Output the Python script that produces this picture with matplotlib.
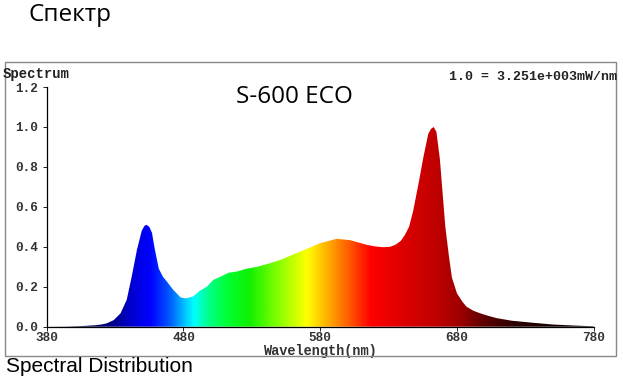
import matplotlib
matplotlib.use('Agg')
import matplotlib.pyplot as plt
import numpy as np
from matplotlib.colors import LinearSegmentedColormap
from matplotlib.patches import Rectangle

# spectrum (relative units, 1.0 = peak)
wavelength = [380, 395, 405, 415, 420, 424, 429, 434, 438.5, 442, 446, 449.5,
              451.5, 453, 455, 457, 459, 462, 465, 468, 472.5, 478, 482, 487,
              492, 497, 502, 507, 513, 519, 526, 534, 542, 551, 565, 580, 592,
              602, 614, 620, 626, 631, 635, 639, 642, 645, 648, 652, 655.5,
              659, 661, 663, 665, 667.5, 669.5, 671.5, 674, 676.3, 680, 684,
              687, 692, 697, 703, 709, 720, 735, 750, 765, 780]
intensity = [0.0, 0.001, 0.003, 0.007, 0.011, 0.017, 0.033, 0.067, 0.134,
             0.245, 0.385, 0.48, 0.505, 0.51, 0.50, 0.47, 0.39, 0.29, 0.25,
             0.225, 0.185, 0.146, 0.142, 0.151, 0.18, 0.20, 0.235, 0.25, 0.27,
             0.276, 0.29, 0.30, 0.315, 0.335, 0.375, 0.418, 0.44, 0.433, 0.41,
             0.402, 0.398, 0.40, 0.41, 0.43, 0.46, 0.50, 0.58, 0.72, 0.85,
             0.965, 0.99, 1.0, 0.975, 0.84, 0.67, 0.50, 0.36, 0.246, 0.167,
             0.125, 0.10, 0.08, 0.067, 0.054, 0.043, 0.03, 0.02, 0.011, 0.006,
             0.002]
xticks = [380, 480, 580, 680, 780]
yticks = [0.0, 0.2, 0.4, 0.6, 0.8, 1.0, 1.2]

# colour of the light along the wavelength axis
stops = [(380, '#000018'), (405, '#000040'), (425, '#000080'), (445, '#0000e0'),
         (455, '#0000ff'), (468, '#0050ff'), (480, '#00c0ff'), (487, '#00ffff'),
         (497, '#00ff90'), (512, '#00ff30'), (528, '#10f000'), (548, '#80ff00'),
         (570, '#ffff00'), (585, '#ffb000'), (600, '#ff6000'), (617, '#ff0000'),
         (645, '#d80000'), (665, '#c00000'), (682, '#a00000'), (700, '#600000'),
         (720, '#300000'), (750, '#120000'), (780, '#000000')]
cmap = LinearSegmentedColormap.from_list(
    'spec', [((w - 380) / 400, c) for w, c in stops])

mono = 'Liberation Mono'

fig = plt.figure(figsize=(6.23, 3.83), dpi=100)
ax = fig.add_axes([46.7 / 623, 1 - 326.7 / 383, 547 / 623, (326.7 - 87) / 383])

poly = ax.fill_between(wavelength, intensity, 0, color='none', lw=0)
grad = np.linspace(0, 1, 800).reshape(1, -1)
im = ax.imshow(grad, cmap=cmap, aspect='auto', extent=[380, 780, 0, 1.2],
               origin='lower', interpolation='bilinear')
path = poly.get_paths()[0]
im.set_clip_path(path, transform=ax.transData)

ax.set_xlim(380, 780)
ax.set_ylim(0, 1.2)
ax.spines['top'].set_visible(False)
ax.spines['right'].set_visible(False)
ax.spines['left'].set_linewidth(0.9)
ax.spines['bottom'].set_linewidth(0.9)
ax.set_xticks(xticks)
ax.set_xticklabels([str(t) for t in xticks])
ax.set_yticks(yticks)
ax.set_yticklabels(['%.1f' % t for t in yticks])
ax.tick_params(axis='both', direction='out', length=3, width=0.6,
               labelsize=9.2)
ax.tick_params(axis='x', pad=1)
ax.tick_params(axis='y', pad=3)
for lab in ax.get_xticklabels() + ax.get_yticklabels():
    lab.set_family(mono)
    lab.set_weight('bold')
    lab.set_color('#333333')
ax.set_xlabel('Wavelength(nm)', family=mono, weight='bold', fontsize=9.8,
              color='#333333', labelpad=0)

# frame and texts
fig.patches.append(Rectangle((5 / 623, 1 - 356 / 383), 611 / 623, 294 / 383,
                             transform=fig.transFigure, fill=False,
                             edgecolor='#888888', lw=1))
fig.text(3 / 623, 1 - 74 / 383, 'Spectrum', family=mono, weight='bold',
         fontsize=10, va='center', color='#222222')
fig.text(449 / 623, 1 - 77 / 383, '1.0 = 3.251e+003mW/nm', family=mono,
         weight='bold', fontsize=9.5, va='center', color='#222222')
fig.text(294 / 623, 1 - 97 / 383, 'S-600 ECO', family='Open Sans',
         fontsize=17.5, ha='center', va='center', color='black')
fig.text(28 / 623, 1 - 15 / 383, 'Спектр', family='Open Sans',
         fontsize=17.5, va='center', color='black')
fig.text(6 / 623, 1 - 367 / 383, 'Spectral Distribution',
         family='Liberation Sans', fontsize=15, va='center', color='black')

fig.savefig('out.png', dpi=100)
